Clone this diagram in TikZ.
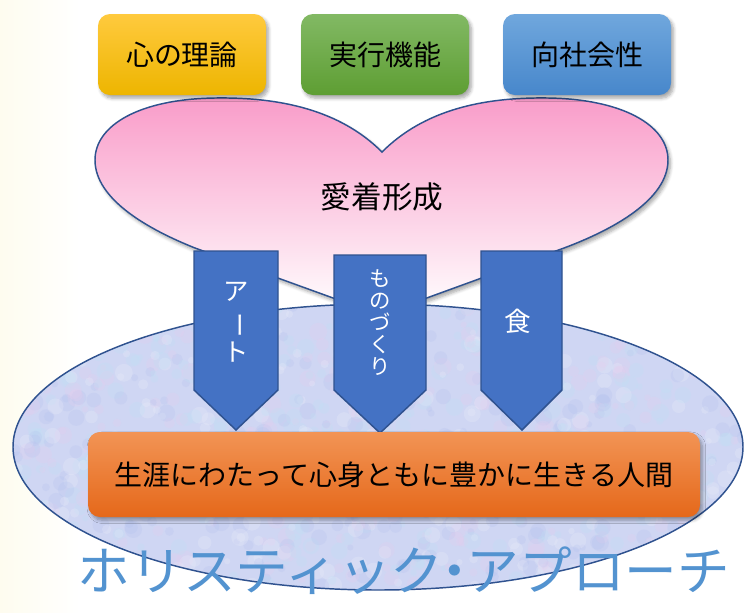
\documentclass[tikz,border=0pt]{standalone}
\usepackage{fontspec}
\usepackage{graphicx}
\newfontfamily\jp{Noto Sans CJK JP}
\usetikzlibrary{shadows.blur}
\definecolor{bordblue}{HTML}{2F528F}
\definecolor{arrowblue}{HTML}{4472C4}
\definecolor{yelT}{HTML}{FFCA3E}
\definecolor{yelB}{HTML}{EDB500}
\definecolor{grnT}{HTML}{82B964}
\definecolor{grnB}{HTML}{5E9E33}
\definecolor{bluT}{HTML}{70A7DD}
\definecolor{bluB}{HTML}{4787CB}
\definecolor{orT}{HTML}{F29455}
\definecolor{orB}{HTML}{E5681A}
\definecolor{pinkT}{HTML}{F99CC9}
\definecolor{pinkM}{HTML}{FFEEF6}
\definecolor{ellbase}{HTML}{CFD6F3}
\definecolor{dotA}{HTML}{E6CDEE}
\definecolor{dotB}{HTML}{BEE2F5}
\definecolor{dotC}{HTML}{B3C1EE}
\definecolor{dotD}{HTML}{EEF0FB}
\definecolor{titleblue}{HTML}{5393D0}
\definecolor{cream}{HTML}{FEFCEF}
\tikzset{
  softshadow/.style={blur shadow={shadow xshift=1.8pt, shadow yshift=-2.4pt, shadow opacity=35, shadow blur steps=6, shadow blur radius=2.5pt}},
  topbox/.style={rounded corners=9pt, minimum width=126pt, minimum height=60.75pt, inner sep=0pt, softshadow, font=\jp\fontsize{21pt}{24pt}\selectfont, text=black},
  arrowshape/.style={fill=arrowblue, draw=bordblue, line width=1.1pt, line join=miter},
  arrowtext/.style={text=white, align=center, inner sep=0pt},
}
\begin{document}
\begin{tikzpicture}[x=0.75pt,y=-0.75pt]
\useasboundingbox (0,0) rectangle (744,612);
% faint cream background at the left
\shade[left color=cream, right color=white] (0,0) rectangle (80,612);

% textured ellipse
\begin{scope}
  \clip (378,447) ellipse [x radius=365, y radius=143];
  \fill[ellbase] (10,300) rectangle (744,600);
  \pgfmathsetseed{11}
  \foreach \i in {1,...,1300}{
    \pgfmathsetmacro\px{10+735*rnd}
    \pgfmathsetmacro\py{300+292*rnd}
    \pgfmathsetmacro\rr{3+6*rnd}
    \pgfmathtruncatemacro\cc{int(4*rnd)}
    \ifcase\cc
      \fill[dotA, opacity=0.24] (\px,\py) circle [radius=\rr];
    \or
      \fill[dotB, opacity=0.24] (\px,\py) circle [radius=\rr];
    \or
      \fill[dotC, opacity=0.24] (\px,\py) circle [radius=\rr];
    \else
      \fill[dotD, opacity=0.24] (\px,\py) circle [radius=\rr];
    \fi
  }
\end{scope}
\draw[bordblue, line width=1.1pt] (378,447) ellipse [x radius=365, y radius=143];

% heart
\path[draw=bordblue, line width=1.1pt, top color=pinkT, middle color=pinkM, bottom color=white, softshadow]
  (382,152) .. controls (340,110) and (280,97) .. (215,98)
  .. controls (140,99) and (95,125) .. (95,160)
  .. controls (95,200) and (150,230) .. (195,248)
  -- (380,315) -- (564,248)
  .. controls (612,230) and (668,200) .. (668,160)
  .. controls (668,125) and (622,99) .. (548,98)
  .. controls (483,97) and (424,110) .. (382,152) -- cycle;
\node[font=\jp\fontsize{23pt}{26pt}\selectfont] (heart) at (382,197) {愛着形成};

% three downward arrows
\path[arrowshape] (194,251) -- (278,251) -- (278,390) -- (236,430) -- (194,390) -- cycle;
\path[arrowshape] (334,255) -- (426,255) -- (426,390) -- (380,433) -- (334,390) -- cycle;
\path[arrowshape] (481,251) -- (562,251) -- (562,390) -- (522,430) -- (481,390) -- cycle;
\node[arrowtext, font=\jp\fontsize{19pt}{23pt}\selectfont] (art) at (236,322) {ア\\\rotatebox[origin=c]{-90}{ー}\\ト};
\node[arrowtext, font=\jp\fontsize{16pt}{16.5pt}\selectfont] (mono) at (380,323) {も\\の\\づ\\く\\り};
\node[arrowtext, font=\jp\fontsize{20pt}{22pt}\selectfont] (food) at (518,321) {食};

% orange goal box
\node[rounded corners=9pt, minimum width=459pt, minimum height=63.75pt, inner sep=0pt,
      top color=orT, bottom color=orB, softshadow,
      font=\jp\fontsize{21pt}{24pt}\selectfont] (goal) at (394,474.5) {生涯にわたって心身ともに豊かに生きる人間};

% title
\node[text=titleblue, font=\jp\fontsize{39.5pt}{41pt}\selectfont, inner sep=0pt] (title) at (404,571) {ホリスティック\hspace{-0.28em}・\hspace{-0.28em}アプローチ};

% top boxes
\node[topbox, top color=yelT, bottom color=yelB] (tom) at (182,54.5) {心の理論};
\node[topbox, top color=grnT, bottom color=grnB] (exec) at (385,54.5) {実行機能};
\node[topbox, top color=bluT, bottom color=bluB] (soc) at (587,54.5) {向社会性};
\end{tikzpicture}
\end{document}
